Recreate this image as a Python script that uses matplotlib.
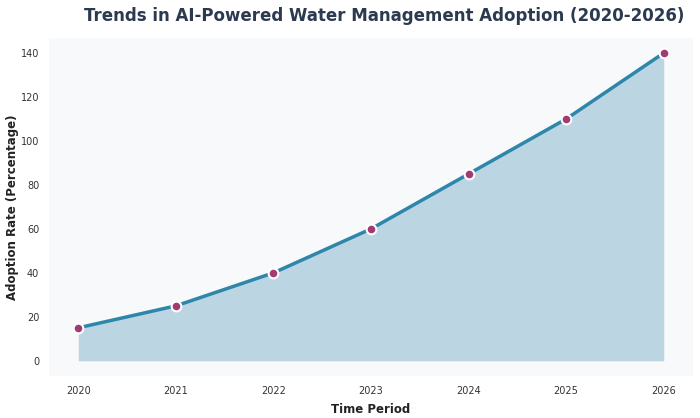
import matplotlib.pyplot as plt

# Data
years = ['2020', '2021', '2022', '2023', '2024', '2025', '2026']
adoption = [15, 25, 40, 60, 85, 110, 140]

line_color = '#2E86AB'
marker_color = '#A23B72'

fig, ax = plt.subplots(figsize=(7, 4.18), dpi=100)
ax.set_facecolor('#F8F9FA')

x = list(range(len(years)))
ax.fill_between(x, adoption, color=line_color, alpha=0.3, linewidth=0)
ax.plot(x, adoption, color=line_color, linewidth=2.5, marker='o', markersize=7,
        markerfacecolor=marker_color, markeredgecolor='white', markeredgewidth=1.5, zorder=3)

ax.set_xticks(x)
ax.set_xticklabels(years)
ax.set_xlim(-0.3, 6.3)
ax.set_ylim(-7, 147)
ax.set_yticks(range(0, 141, 20))
ax.tick_params(axis='both', length=0, labelsize=7, colors='#333333', pad=7)

for side in ['top', 'right', 'bottom', 'left']:
    ax.spines[side].set_visible(False)

ax.set_title('Trends in AI-Powered Water Management Adoption (2020-2026)',
             fontsize=12, fontweight='bold', color='#2B3A4E', pad=12, x=0.52)
ax.set_xlabel('Time Period', fontsize=8.5, fontweight='bold', color='#222222', labelpad=5)
ax.set_ylabel('Adoption Rate (Percentage)', fontsize=8.5, fontweight='bold', color='#222222',
              labelpad=1)

plt.subplots_adjust(left=0.07, right=0.99, top=0.91, bottom=0.1)
plt.savefig('out.png', dpi=100)
